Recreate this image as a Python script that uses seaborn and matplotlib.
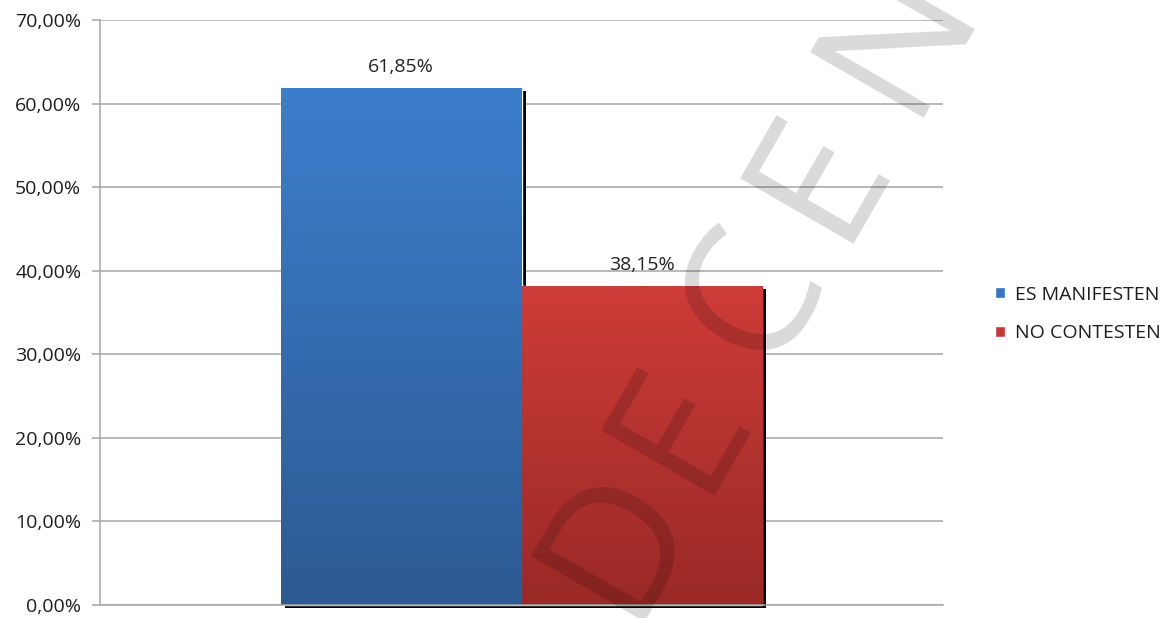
import numpy as np
import pandas as pd
import matplotlib
matplotlib.use("Agg")
import matplotlib.pyplot as plt
import seaborn as sns
from matplotlib import patheffects as pe
from matplotlib.ticker import FuncFormatter
from matplotlib.colors import LinearSegmentedColormap

# ---- data ----
categories = [""]
series = ["ES MANIFESTEN", "NO CONTESTEN"]
values = [61.85, 38.15]
y_ticks = [0, 10, 20, 30, 40, 50, 60, 70]
colors_mid = ["#3876c2", "#c53a35"]
colors_top = ["#3c7ecd", "#ce3c38"]
colors_bottom = ["#2c5a92", "#992926"]
watermark = "DECENT"

sns.set_theme(style="white")
plt.rcParams['font.family'] = ['Open Sans', 'DejaVu Sans']

W, H = 1166, 618
fig = plt.figure(figsize=(W / 100, H / 100), dpi=100)
ax = fig.add_axes([100 / W, 1 - 605 / H, 843 / W, 585 / H])

df = pd.DataFrame({"cat": categories * len(series), "serie": series, "valor": values})
sns.barplot(data=df, x="cat", y="valor", hue="serie", hue_order=series,
            palette=dict(zip(series, colors_mid)), width=0.571, saturation=1,
            ax=ax, legend=True)

handles, labels = ax.get_legend_handles_labels()
if ax.get_legend() is not None:
    ax.get_legend().remove()

grad = np.linspace(0, 1, 256).reshape(-1, 1)
for cont, top, bot in zip(ax.containers, colors_top, colors_bottom):
    cmap = LinearSegmentedColormap.from_list("g", [bot, top])
    for bar in cont:
        bar.set_clip_on(False)
        bar.set_path_effects([pe.SimplePatchShadow(offset=(2.9, -2.2), shadow_rgbFace="black",
                                                   alpha=1.0), pe.Normal()])
        x0, w, h = bar.get_x(), bar.get_width(), bar.get_height()
        im = ax.imshow(grad, extent=[x0, x0 + w, 0, h], origin="lower", cmap=cmap,
                       aspect="auto", zorder=bar.get_zorder() + 0.1, interpolation="bilinear")
        im.set_clip_path(bar)
    ax.bar_label(cont, labels=[f"{v:.2f}%".replace(".", ",") for v in cont.datavalues],
                 padding=9, fontsize=14, color="#222222")

ax.set_xlim(-0.5, 0.5)
ax.set_ylim(0, 70)
ax.set_yticks(y_ticks)
ax.yaxis.set_major_formatter(FuncFormatter(lambda v, p: f"{v:.2f}%".replace(".", ",")))
ax.set_xticks([])
ax.set_xlabel("")
ax.set_ylabel("")
ax.yaxis.grid(True, color="#a6a6a6", lw=1.1)
ax.set_axisbelow(True)
for s in ["top", "right"]:
    ax.spines[s].set_visible(False)
for s in ["left", "bottom"]:
    ax.spines[s].set_color("#a6a6a6")
    ax.spines[s].set_linewidth(1.1)
ax.tick_params(axis="y", left=True, length=5.5, width=1.1, color="#a6a6a6",
               direction="out", pad=8, labelsize=14, labelcolor="#1e1e1e")

fig.legend(handles, labels, loc="center left", bbox_to_anchor=(995 / W, 1 - 314 / H),
           frameon=False, borderaxespad=0, borderpad=0, handlelength=0.5,
           handleheight=0.5, handletextpad=0.55, labelspacing=1.05, fontsize=14,
           labelcolor="#1e1e1e")

# watermark: letters laid along a rotated baseline
ang = np.deg2rad(61)
start_px, adv_px = (627, 622), 144
for i, ch in enumerate(watermark):
    px = start_px[0] + i * adv_px * np.cos(ang)
    py = start_px[1] - i * adv_px * np.sin(ang)
    fig.text(px / W, 1 - py / H, ch, rotation=60, rotation_mode="anchor",
             ha="left", va="baseline", fontsize=132, color="black", alpha=0.15, zorder=10)

fig.savefig("out.png", dpi=100)
